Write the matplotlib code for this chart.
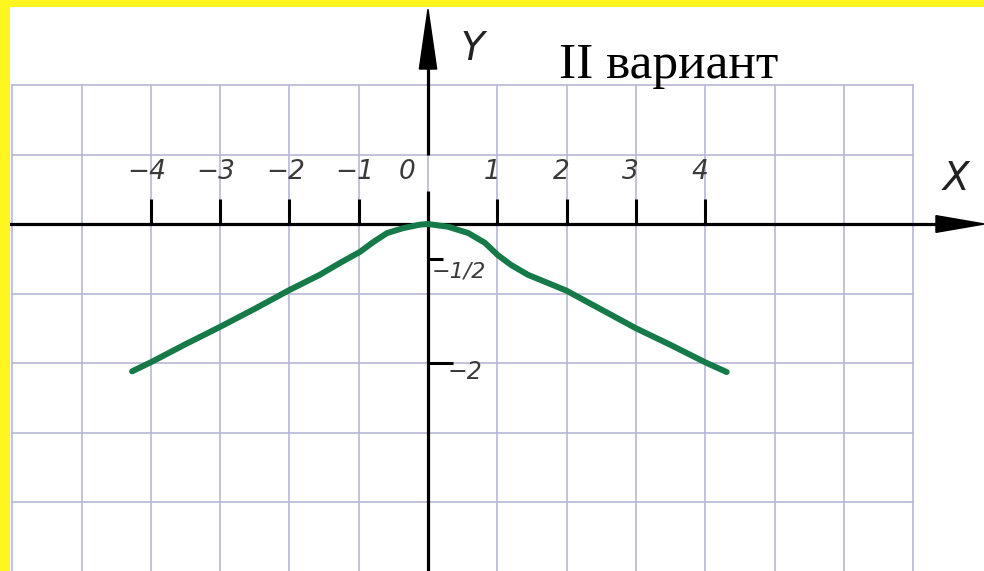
import matplotlib
matplotlib.use("Agg")
import matplotlib.pyplot as plt
from matplotlib.patches import Polygon

# ---- data ----
curve_x = [-4.27, -4.0, -3.5, -3.0, -2.5, -2.0, -1.56, -1.27, -0.98, -0.79, -0.59, -0.36, -0.12, 0.0,
           0.29, 0.58, 0.82, 1.01, 1.20, 1.44, 2.0, 2.5, 3.0, 3.5, 4.0, 4.31]
curve_y = [-2.12, -1.99, -1.73, -1.48, -1.22, -0.95, -0.73, -0.56, -0.40, -0.26, -0.13, -0.06, -0.01, 0.0,
           -0.04, -0.13, -0.27, -0.45, -0.59, -0.73, -0.96, -1.23, -1.50, -1.74, -1.99, -2.13]

x_ticks = [-4, -3, -2, -1, 1, 2, 3, 4]
x_tick_labels = ["−4", "−3", "−2", "−1", "1", "2", "3", "4"]
y_ticks = [-0.5, -2]
y_tick_labels = ["−1/2", "−2"]
title_text = "II вариант"

# ---- figure ----
W, H, DPI = 984, 571, 100
fig = plt.figure(figsize=(W / DPI, H / DPI), dpi=DPI)
fig.patch.set_facecolor("#fff51f")

# pixel geometry of the white area
left_px, top_px = 10, 7
ax = fig.add_axes([left_px / W, 0, (W - left_px) / W, (H - top_px) / H])
ax.set_facecolor("white")
for s in ax.spines.values():
    s.set_visible(False)
ax.set_xticks([])
ax.set_yticks([])

x0_px, y0_px, ux, uy = 428, 224, 69.3, 69.5
ax.set_xlim((left_px - x0_px) / ux, (W - x0_px) / ux)
ax.set_ylim((y0_px - H) / uy, (y0_px - top_px) / uy)

grid_c = "#b9b8d6"
# grid
for gx in range(-6, 8):
    ax.plot([gx, gx], [-5.2, 2], color=grid_c, lw=1.2, zorder=1)
for gy in range(-4, 3):
    ax.plot([-6, 7], [gy, gy], color=grid_c, lw=1.2, zorder=1)

# axes
ax.plot([-6.1, 7.35], [0, 0], color="black", lw=2.3, zorder=3, solid_capstyle="butt")
ax.plot([0, 0], [-5.2, 0.47], color="black", lw=2.3, zorder=3, solid_capstyle="butt")
ax.plot([0, 0], [0.99, 2.3], color="black", lw=2.3, zorder=3, solid_capstyle="butt")
# arrow heads
ax.add_patch(Polygon([[0, 3.09], [-0.125, 2.23], [0.125, 2.23]], closed=True,
                     facecolor="black", edgecolor="black", lw=1, zorder=4))
ax.add_patch(Polygon([[8.03, 0], [7.33, 0.12], [7.33, -0.12]], closed=True,
                     facecolor="black", edgecolor="black", lw=1, zorder=4))

lab_c = "#3a3a3a"
# x ticks
for t, lab in zip(x_ticks, x_tick_labels):
    ax.plot([t, t], [0, 0.36], color="black", lw=2.2, zorder=3, solid_capstyle="butt")
    ax.text(t - 0.06 if t < 0 else t - 0.08, 0.75, lab, ha="center", va="center",
            fontsize=19, style="italic", color=lab_c, zorder=5)
ax.text(-0.30, 0.75, "0", ha="center", va="center", fontsize=19, style="italic",
        color=lab_c, zorder=5)

# y ticks
tick_len = {-0.5: 0.22, -2: 0.36}
for t, lab in zip(y_ticks, y_tick_labels):
    ax.plot([0, tick_len[t]], [t, t], color="black", lw=2.2, zorder=3, solid_capstyle="butt")
ax.text(0.45, -0.69, y_tick_labels[0], ha="center", va="center", fontsize=16,
        style="italic", color=lab_c, zorder=5)
ax.text(0.53, -2.13, y_tick_labels[1], ha="center", va="center", fontsize=17,
        style="italic", color=lab_c, zorder=5)

# axis names
ax.text(0.64, 2.52, "Y", ha="center", va="center", fontsize=28, style="italic",
        color="#222222", zorder=5)
ax.text(7.62, 0.65, "X", ha="center", va="center", fontsize=28, style="italic",
        color="#222222", zorder=5)

# title
ax.text((559 - x0_px) / ux, (y0_px - 78) / uy, title_text, ha="left", va="baseline",
        fontsize=37, family="Liberation Serif", color="black", zorder=5)

# curve
ax.plot(curve_x, curve_y, color="#157a47", lw=4.3, zorder=6,
        solid_capstyle="round", solid_joinstyle="round")

fig.savefig("out.png", dpi=DPI, facecolor=fig.get_facecolor())
